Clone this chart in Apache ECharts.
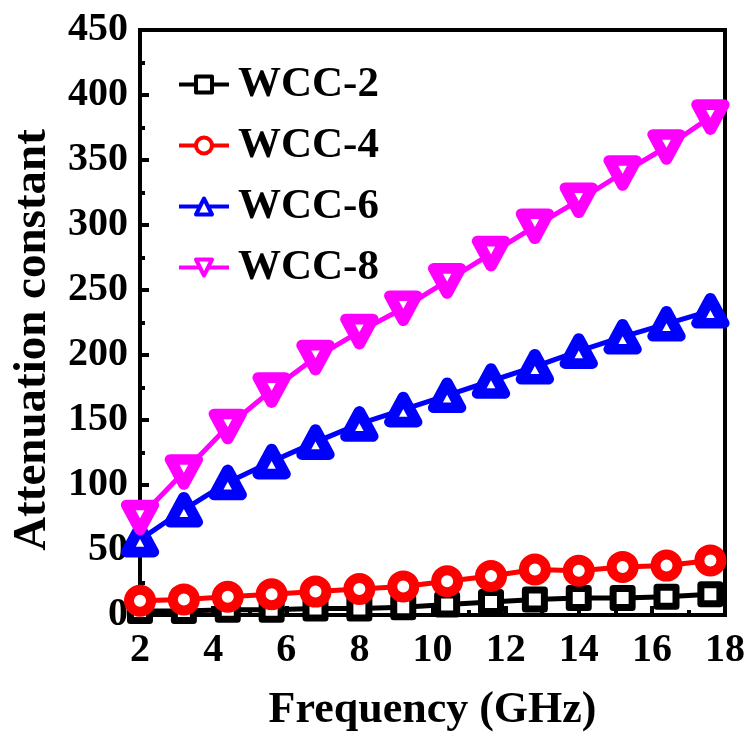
<!DOCTYPE html>
<html>
<head>
<meta charset="utf-8">
<script src="https://cdn.jsdelivr.net/npm/echarts@6/dist/echarts.min.js"></script>
<style>
  html, body { margin: 0; padding: 0; background: #fff; }
  #chart { width: 750px; height: 738px; }
</style>
</head>
<body>
<div id="chart"></div>
<script>
// Frequency sweep (GHz) and attenuation constant for each sample
const freq = [2, 3.2, 4.4, 5.6, 6.8, 8.0, 9.2, 10.4, 11.6, 12.8, 14.0, 15.2, 16.4, 17.6];
const wcc2 = [3, 3, 4, 4, 5, 5, 6, 8, 10, 12, 13, 13, 14, 16];
const wcc4 = [11, 12, 14, 16, 18, 20, 22, 26, 30, 35, 34, 37, 38, 42];
const wcc6 = [58, 81, 102, 118, 133, 147, 158, 169, 180, 191, 203, 214, 224, 234];
const wcc8 = [75, 110, 145, 173, 198, 218, 236, 257, 278, 299, 319, 340, 360, 383];
const seriesNames = ['WCC-2', 'WCC-4', 'WCC-6', 'WCC-8'];

const FONT = '"Liberation Serif", "Times New Roman", serif';

function pairs(ys) {
  return freq.map((x, i) => [x, ys[i]]);
}

function lineSeries(name, ys, color, symbol, size, rotate, border) {
  return {
    name: name,
    type: 'line',
    data: pairs(ys),
    symbol: symbol,
    symbolSize: size,
    symbolRotate: rotate,
    showAllSymbol: true,
    clip: false,
    lineStyle: { color: color, width: 5 },
    itemStyle: { color: '#fff', borderColor: color, borderWidth: border, borderJoin: 'round' },
    emphasis: { disabled: true },
    animation: false
  };
}

const chart = echarts.init(document.getElementById('chart'), null, { renderer: 'canvas' });

chart.setOption({
  backgroundColor: '#fff',
  animation: false,
  grid: {
    left: 140, right: 25, top: 30, bottom: 121,
    show: true, borderColor: '#000', borderWidth: 4, backgroundColor: 'transparent'
  },
  legend: {
    orient: 'vertical',
    left: 172, top: 58,
    itemWidth: 50, itemHeight: 20, itemGap: 18,
    data: seriesNames,
    textStyle: { fontFamily: FONT, fontWeight: 'bold', fontSize: 43, color: '#000', lineHeight: 42, padding: [0, 0, 0, 4] },
    itemStyle: { borderWidth: 4 },
    lineStyle: { width: 4 }
  },
  xAxis: {
    type: 'value',
    min: 2, max: 18, interval: 2,
    name: 'Frequency (GHz)',
    nameLocation: 'middle',
    nameGap: 74,
    nameTextStyle: { fontFamily: FONT, fontWeight: 'bold', fontSize: 44, color: '#000' },
    axisLine: { show: true, lineStyle: { color: '#000', width: 4 } },
    axisTick: { show: true, inside: true, length: 9, lineStyle: { color: '#000', width: 4 } },
    minorTick: { show: true, splitNumber: 2, length: 5, lineStyle: { color: '#000', width: 4 } },
    axisLabel: { fontFamily: FONT, fontWeight: 'bold', fontSize: 40, color: '#000', margin: 16 },
    splitLine: { show: false }
  },
  yAxis: {
    type: 'value',
    min: 0, max: 450, interval: 50,
    axisLine: { show: true, lineStyle: { color: '#000', width: 4 } },
    axisTick: { show: true, inside: true, length: 9, lineStyle: { color: '#000', width: 4 } },
    minorTick: { show: true, splitNumber: 2, length: 5, lineStyle: { color: '#000', width: 4 } },
    axisLabel: { fontFamily: FONT, fontWeight: 'bold', fontSize: 40, color: '#000', margin: 12 },
    splitLine: { show: false }
  },
  graphic: [{
    type: 'text',
    x: 33, y: 340,
    rotation: Math.PI / 2,
    style: {
      text: 'Attenuation constant',
      fontFamily: FONT, fontWeight: 'bold', fontSize: 47, fill: '#000',
      align: 'center', verticalAlign: 'middle'
    }
  }],
  series: [
    lineSeries('WCC-2', wcc2, '#000000', 'rect', 19, 0, 7),
    lineSeries('WCC-4', wcc4, '#ff0000', 'circle', 22, 0, 10),
    lineSeries('WCC-6', wcc6, '#0000ff', 'triangle', [27, 25], 0, 11),
    lineSeries('WCC-8', wcc8, '#ff00ff', 'triangle', [27, 25], 180, 11)
  ]
});
</script>
</body>
</html>
